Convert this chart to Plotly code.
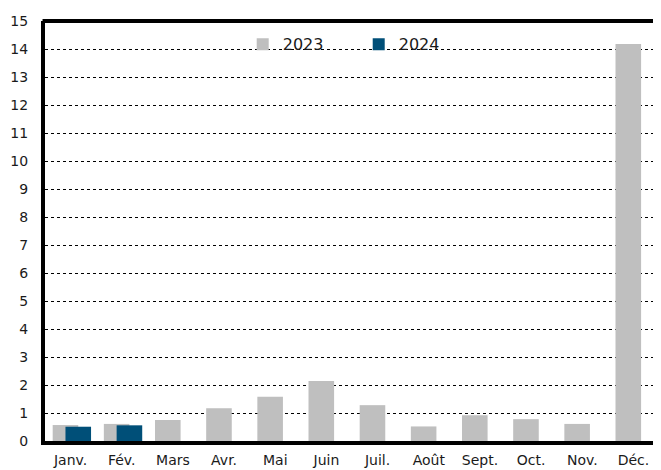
import plotly.graph_objects as go

months = ["Janv.", "Fév.", "Mars", "Avr.", "Mai", "Juin", "Juil.", "Août", "Sept.", "Oct.", "Nov.", "Déc."]
values_2023 = [0.57, 0.61, 0.75, 1.17, 1.58, 2.14, 1.28, 0.52, 0.92, 0.78, 0.61, 14.18]
months_2024 = ["Janv.", "Fév."]
values_2024 = [0.51, 0.56]
y_ticks = list(range(0, 16))

FONT = "DejaVu Sans"

fig = go.Figure()
fig.add_trace(go.Bar(
    x=months, y=values_2023, name="2023",
    marker=dict(color="#bfbfbf", line=dict(width=0)),
    width=0.5, offset=-0.35,
))
fig.add_trace(go.Bar(
    x=months_2024, y=values_2024, name="2024",
    marker=dict(color="#004f78", line=dict(width=0)),
    width=0.5, offset=-0.1,
))

fig.update_layout(
    width=653, height=462,
    margin=dict(l=37, r=2, t=13, b=29),
    paper_bgcolor="white", plot_bgcolor="white",
    barmode="overlay",
    showlegend=True,
    legend=dict(
        orientation="h", x=0.322, y=0.985, xanchor="left", yanchor="top",
        bgcolor="rgba(0,0,0,0)", font=dict(family=FONT, size=16, color="#1a1a1a"),
        entrywidth=71, entrywidthmode="pixels", itemwidth=30,
    ),
    font=dict(family=FONT, size=14, color="#1a1a1a"),
    xaxis=dict(
        categoryorder="array", categoryarray=months,
        showline=True, linecolor="black", linewidth=4,
        ticks="", showgrid=False, ticklabelstandoff=3, automargin=False,
        tickfont=dict(family=FONT, size=14, color="#1a1a1a"),
        range=[-0.5, 11.5],
    ),
    yaxis=dict(
        range=[0, 15], tickvals=y_ticks, ticktext=[str(v) for v in y_ticks],
        showline=True, linecolor="black", linewidth=4,
        showgrid=True, gridcolor="black", gridwidth=0.6, griddash="dot",
        zeroline=False, ticks="", ticklabelstandoff=10, automargin=False,
        tickfont=dict(family=FONT, size=14, color="#1a1a1a"),
    ),
    shapes=[
        dict(type="line", xref="paper", yref="paper", x0=-0.004, x1=1, y0=1, y1=1,
             line=dict(color="black", width=4)),
        dict(type="line", xref="paper", yref="paper", x0=1, x1=1, y0=0, y1=1,
             line=dict(color="black", width=1.2)),
    ],
)

fig.write_html("out.html")
